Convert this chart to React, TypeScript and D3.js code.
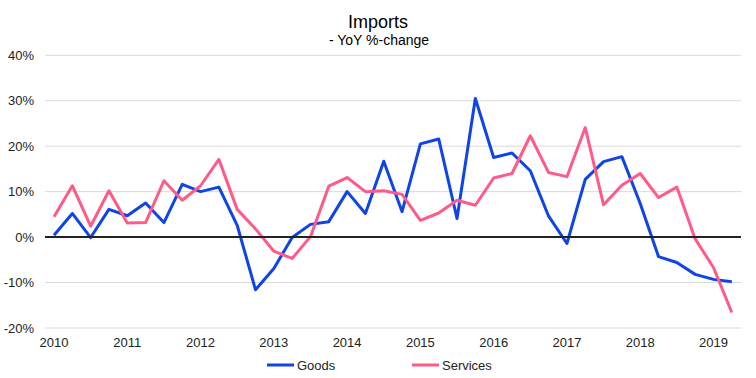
import React from "react";
import * as d3 from "d3";

const quarters: string[] = [];
for (let y = 2010; y <= 2019; y++) {
  for (let q = 1; q <= 4; q++) {
    if (y === 2019 && q > 2) break;
    quarters.push(`${y}Q${q}`);
  }
}

const goods = [
  0.4, 5.2, -0.1, 6.1, 4.7, 7.5, 3.2, 11.6, 10.0, 11.0, 2.6, -11.6,
  -6.9, -0.1, 2.8, 3.4, 10.0, 5.2, 16.7, 5.6, 20.5, 21.6, 4.1, 30.5,
  17.5, 18.5, 14.6, 4.6, -1.4, 12.7, 16.6, 17.7, 7.4, -4.3, -5.6, -8.2,
  -9.3, -9.8,
];

const services = [
  4.5, 11.3, 2.4, 10.2, 3.1, 3.2, 12.4, 8.1, 11.3, 17.1, 6.1, 1.8,
  -3.1, -4.7, 0.1, 11.2, 13.1, 10.0, 10.2, 9.4, 3.7, 5.3, 8.1, 7.0,
  13.0, 14.0, 22.3, 14.2, 13.3, 24.1, 7.1, 11.4, 14.0, 8.7, 11.0, -0.4,
  -6.7, -16.6,
];

const yTicks = [-20, -10, 0, 10, 20, 30, 40];
const yearLabels = ["2010", "2011", "2012", "2013", "2014", "2015", "2016", "2017", "2018", "2019"];

const seriesList = [
  { name: "Goods", values: goods, color: "#0f44e8" },
  { name: "Services", values: services, color: "#ff5b88" },
];

const W = 756;
const H = 378;
const FONT = "'Liberation Sans', Arial, sans-serif";

export default function App() {
  const x = d3.scaleLinear().domain([0, 37]).range([54, 731.8]);
  const y = d3.scaleLinear().domain([-20, 40]).range([328, 55.3]);
  const gridX0 = 45;
  const gridX1 = 741;

  const line = d3
    .line<number>()
    .x((_, i) => x(i))
    .y((d) => y(d));

  return (
    <svg
      width={W}
      height={H}
      style={{ position: "absolute", left: 0, top: 0, background: "#fff" }}
      fontFamily={FONT}
    >
      <rect x={0} y={0} width={W} height={H} fill="#fff" />
      <text x={378} y={28} textAnchor="middle" fontSize={18} fill="#000">
        Imports
      </text>
      <text x={379} y={45} textAnchor="middle" fontSize={14} fill="#000">
        - YoY %-change
      </text>

      {yTicks.map((t) => (
        <g key={t}>
          {t !== 0 && (
            <line x1={gridX0} x2={gridX1} y1={y(t)} y2={y(t)} stroke="#d9d9d9" strokeWidth={1} />
          )}
          <text
            x={34}
            y={y(t)}
            dy="0.35em"
            textAnchor="end"
            fontSize={13}
            fill="#222"
          >
            {`${t}%`}
          </text>
        </g>
      ))}

      {yearLabels.map((lab, k) => (
        <text
          key={lab}
          x={x(k * 4)}
          y={347}
          textAnchor="middle"
          fontSize={13}
          fill="#222"
        >
          {lab}
        </text>
      ))}

      {seriesList.map((s) => (
        <path
          key={s.name}
          d={line(s.values) || ""}
          fill="none"
          stroke={s.color}
          strokeWidth={3}
          strokeLinejoin="round"
        />
      ))}

      <line x1={gridX0} x2={gridX1} y1={y(0)} y2={y(0)} stroke="#222" strokeWidth={2} />

      {seriesList.map((s, i) => {
        const lx = i === 0 ? 267 : 412;
        return (
          <g key={s.name}>
            <line x1={lx} x2={lx + 27} y1={365} y2={365} stroke={s.color} strokeWidth={3} />
            <text x={lx + 30} y={370} fontSize={13} fill="#222">
              {s.name}
            </text>
          </g>
        );
      })}
    </svg>
  );
}
